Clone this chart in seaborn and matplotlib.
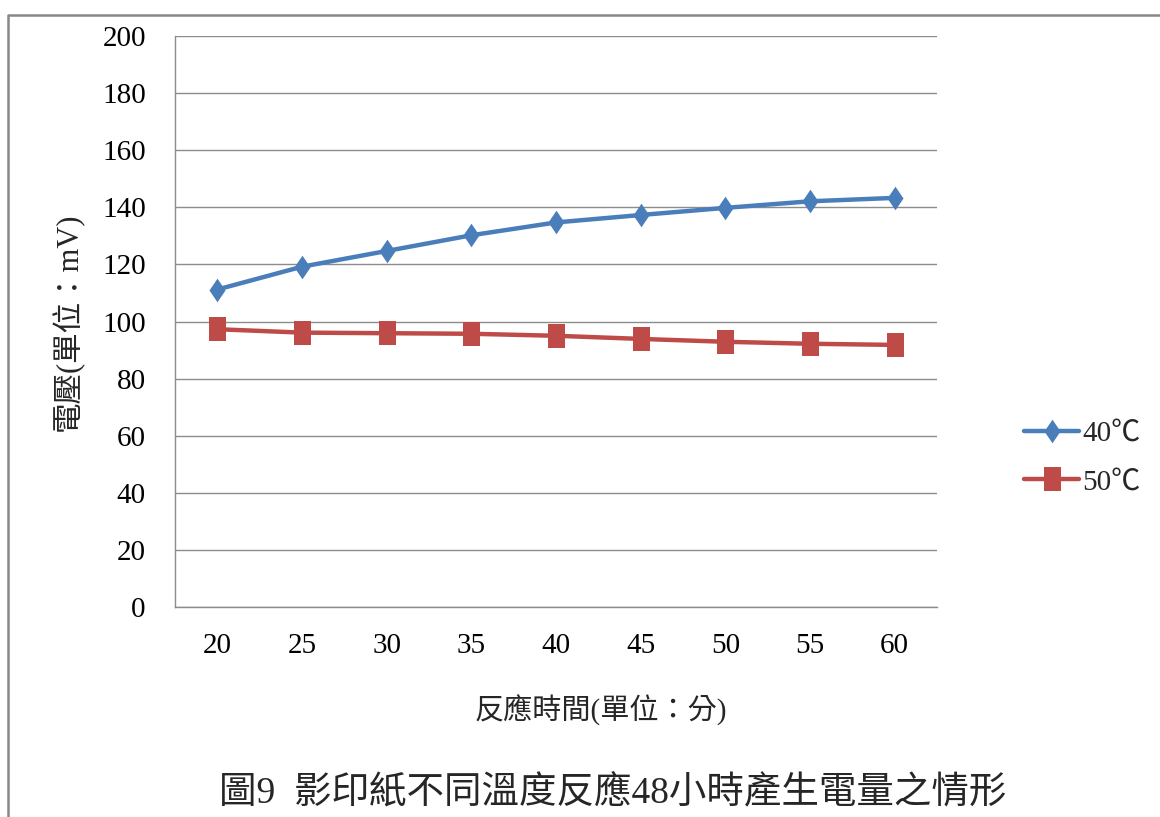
import numpy as np
import pandas as pd
import matplotlib
matplotlib.use("Agg")
import matplotlib.pyplot as plt
from matplotlib.path import Path
from matplotlib.lines import Line2D
import seaborn as sns

# Reaction time (minutes) and measured voltage (mV) per temperature
minutes = [20, 25, 30, 35, 40, 45, 50, 55, 60]
volt_40c = [111.2, 119.2, 124.7, 130.2, 134.7, 137.3, 139.8, 142.1, 143.3]
volt_50c = [97.3, 96.1, 95.9, 95.7, 95.0, 93.9, 92.9, 92.2, 91.8]
series_names = ["40℃", "50℃"]
y_ticks = [0, 20, 40, 60, 80, 100, 120, 140, 160, 180, 200]

title_text = "圖9  影印紙不同溫度反應48小時產生電量之情形"
xlabel_text = "反應時間(單位：分)"
ylabel_text = "電壓(單位：mV)"

df = pd.DataFrame({
    "minutes": minutes * 2,
    "voltage": volt_40c + volt_50c,
    "series": [series_names[0]] * len(minutes) + [series_names[1]] * len(minutes),
})

sns.set_theme(style="white")
plt.rcParams["font.family"] = ["Liberation Serif", "Noto Sans CJK TC"]
plt.rcParams["axes.unicode_minus"] = False

# slightly tall diamond and rectangle markers
diamond = Path([(0, 0.5), (0.34, 0), (0, -0.5), (-0.34, 0), (0, 0.5)],
               [Path.MOVETO, Path.LINETO, Path.LINETO, Path.LINETO, Path.CLOSEPOLY])
rect = Path([(-0.36, -0.5), (0.36, -0.5), (0.36, 0.5), (-0.36, 0.5), (-0.36, -0.5)],
            [Path.MOVETO, Path.LINETO, Path.LINETO, Path.LINETO, Path.CLOSEPOLY])

palette = {series_names[0]: "#4A7EBB", series_names[1]: "#BE4B48"}
markers = {series_names[0]: diamond, series_names[1]: rect}

fig = plt.figure(figsize=(11.6, 8.17), dpi=100)
ax = fig.add_axes([175 / 1160, 1 - 607 / 817, (937 - 175) / 1160, (607 - 36) / 817])

sns.lineplot(data=df, x="minutes", y="voltage", hue="series", style="series",
             palette=palette, markers=markers, dashes=False, linewidth=3.2,
             markersize=17, markeredgewidth=0, ax=ax)

ax.set_xlim(17.5, 62.5)
ax.set_ylim(0, 200)
ax.set_xticks(minutes)
ax.set_xticklabels([str(m) for m in minutes])
ax.set_yticks(y_ticks)
ax.set_yticklabels([str(v) for v in y_ticks])
ax.tick_params(axis="y", length=0, pad=21, labelsize=21, colors="#000000")
ax.tick_params(axis="x", length=0, pad=19, labelsize=21, colors="#000000")
ax.yaxis.grid(True, color="#8C8C8C", linewidth=1.0)
ax.xaxis.grid(False)
for side in ["top", "right"]:
    ax.spines[side].set_visible(False)
for side in ["left", "bottom"]:
    ax.spines[side].set_color("#8C8C8C")
    ax.spines[side].set_linewidth(1.0)

ax.set_xlabel(xlabel_text, fontsize=21, va="center", ha="center")
ax.xaxis.set_label_coords((601 - 175) / 762, -(710 - 607) / 571)
ax.set_ylabel(ylabel_text, fontsize=22, va="center", ha="center")
ax.yaxis.set_label_coords((68 - 175) / 762, (607 - 322) / 571)

handles, labels = ax.get_legend_handles_labels()
ax.get_legend().remove()
fig.legend(handles, labels, loc="center left", bbox_to_anchor=(1024 / 1160, 1 - 458 / 817),
           frameon=False, fontsize=21, handlelength=1.9, handletextpad=0.1,
           labelspacing=0.75, borderpad=0, borderaxespad=0)

fig.text(613 / 1160, 1 - 793 / 817, title_text, fontsize=27, ha="center", va="center")

# outer frame (top and left edges)
fig.add_artist(Line2D([8 / 1160, 8 / 1160, 1.0], [0.0, 1 - 15 / 817, 1 - 15 / 817],
                      transform=fig.transFigure, color="#888888", linewidth=1.8))

fig.savefig("out.png", dpi=100)
